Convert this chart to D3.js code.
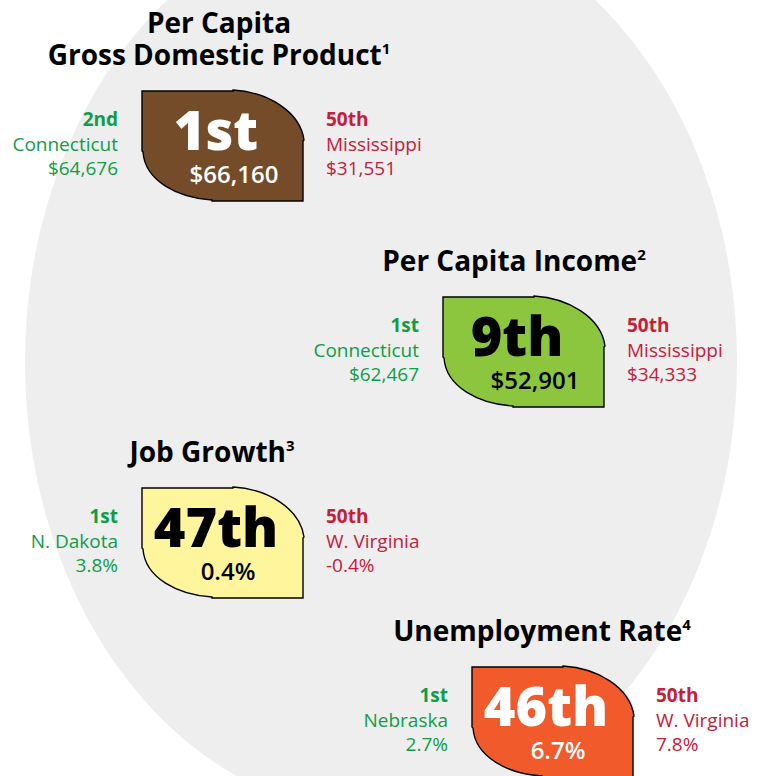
<!DOCTYPE html>
<html>
<head>
<meta charset="utf-8">
<script src="https://cdn.jsdelivr.net/npm/d3@7"></script>
<style>
  body { margin: 0; background: #fff; }
  svg text { font-family: "Open Sans", "Noto Sans", sans-serif; }
</style>
</head>
<body>
<div id="chart"></div>
<script>
// values
var titles     = [["Per Capita", "Gross Domestic Product"], ["Per Capita Income"], ["Job Growth"], ["Unemployment Rate"]];
var footnotes  = ["1", "2", "3", "4"];
var ranks      = ["1st", "9th", "47th", "46th"];
var values     = ["$66,160", "$52,901", "0.4%", "6.7%"];
var bestRank   = ["2nd", "1st", "1st", "1st"];
var bestState  = ["Connecticut", "Connecticut", "N. Dakota", "Nebraska"];
var bestValue  = ["$64,676", "$62,467", "3.8%", "2.7%"];
var worstRank  = ["50th", "50th", "50th", "50th"];
var worstState = ["Mississippi", "Mississippi", "W. Virginia", "W. Virginia"];
var worstValue = ["$31,551", "$34,333", "-0.4%", "7.8%"];

// layout
var W = 757, H = 776;
var bw = 161, bh = 110;
var boxes = [
  {x: 142, y: 91,  fill: "#754c29", ink: "#ffffff", tx: 219},
  {x: 443, y: 297, fill: "#8cc63f", ink: "#000000", tx: 514},
  {x: 142, y: 488, fill: "#fff59d", ink: "#000000", tx: 212},
  {x: 472, y: 667, fill: "#f15a2b", ink: "#ffffff", tx: 542}
];
var green = "#0f9d48", red = "#c4203a";

var svg = d3.select("#chart")
  .append("svg")
    .attr("width", W)
    .attr("height", H);

// big grey oval behind everything
svg.append("ellipse")
  .attr("cx", 381)
  .attr("cy", 362)
  .attr("rx", 356)
  .attr("ry", 453)
  .attr("fill", "#eeeeee");

// leaf shaped badge: square corners top-left / bottom-right, curved the other two
function leaf() {
  var p = d3.path();
  p.moveTo(0, 0);
  p.lineTo(91, 0);
  p.lineTo(91, -1);
  p.bezierCurveTo(125, 1, 158, 20, 162, 49);
  p.lineTo(161, 50);
  p.lineTo(161, 110);
  p.lineTo(70, 110);
  p.lineTo(70, 109);
  p.bezierCurveTo(36, 107, 3, 90, 1, 61);
  p.lineTo(0, 60);
  p.closePath();
  return p.toString();
}

var g = svg.selectAll("g.stat")
  .data(ranks)
  .enter().append("g")
    .attr("class", "stat")
    .attr("transform", function(d, i) { return "translate(" + boxes[i].x + "," + boxes[i].y + ")"; });

g.append("path")
  .attr("d", leaf())
  .attr("fill", function(d, i) { return boxes[i].fill; })
  .attr("stroke", "#000")
  .attr("stroke-width", 1.4)
  .attr("stroke-linejoin", "miter");

g.append("text")
  .attr("x", 74)
  .attr("y", 59)
  .attr("text-anchor", "middle")
  .attr("font-size", 54)
  .attr("font-weight", 800)
  .attr("fill", function(d, i) { return boxes[i].ink; })
  .text(function(d) { return d; });

g.append("text")
  .attr("x", function(d, i) { return values[i].charAt(0) == "$" ? 92 : 86; })
  .attr("y", 92)
  .attr("text-anchor", "middle")
  .attr("font-size", 24)
  .attr("font-weight", 600)
  .attr("fill", function(d, i) { return boxes[i].ink; })
  .text(function(d, i) { return values[i]; });

// best state on the left
var left = g.append("text")
  .attr("text-anchor", "end")
  .attr("fill", green)
  .attr("font-size", 19);
left.append("tspan").attr("x", -24).attr("y", 35).attr("font-weight", 700)
  .text(function(d, i) { return bestRank[i]; });
left.append("tspan").attr("x", -24).attr("y", 60)
  .text(function(d, i) { return bestState[i]; });
left.append("tspan").attr("x", -24).attr("y", 84)
  .text(function(d, i) { return bestValue[i]; });

// worst state on the right
var right = g.append("text")
  .attr("text-anchor", "start")
  .attr("fill", red)
  .attr("font-size", 19);
right.append("tspan").attr("x", bw + 23).attr("y", 35).attr("font-weight", 700)
  .text(function(d, i) { return worstRank[i]; });
right.append("tspan").attr("x", bw + 23).attr("y", 60)
  .text(function(d, i) { return worstState[i]; });
right.append("tspan").attr("x", bw + 23).attr("y", 84)
  .text(function(d, i) { return worstValue[i]; });

// titles above each badge
titles.forEach(function(lines, i) {
  var t = svg.append("text")
    .attr("text-anchor", "middle")
    .attr("font-size", 28)
    .attr("font-weight", 700)
    .attr("fill", "#000");
  lines.forEach(function(line, j) {
    var y = boxes[i].y - 26 - (lines.length - 1 - j) * 32;
    t.append("tspan")
      .attr("x", boxes[i].tx)
      .attr("y", y)
      .text(line);
    if (j == lines.length - 1) {
      t.append("tspan")
        .attr("font-size", 15)
        .attr("dy", -11)
        .text(footnotes[i]);
    }
  });
});
</script>
</body>
</html>
